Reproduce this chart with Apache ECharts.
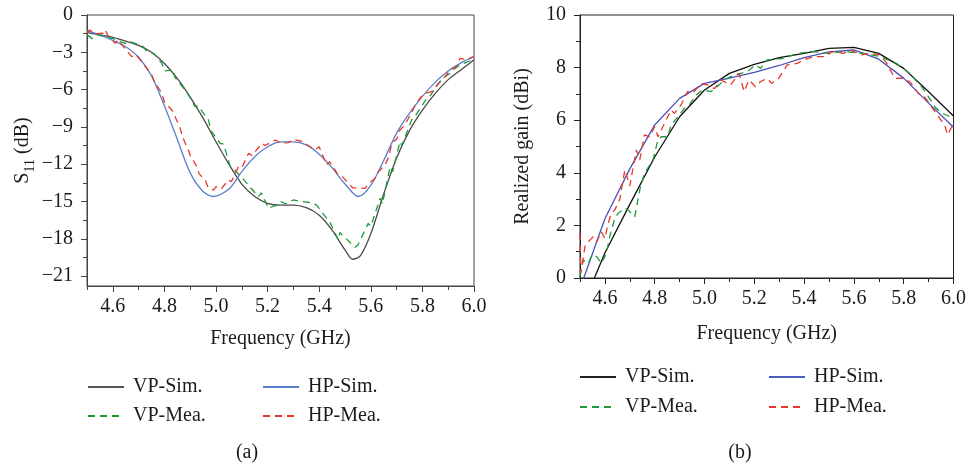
<!DOCTYPE html>
<html>
<head>
<meta charset="utf-8">
<title>S11 and realized gain</title>
<script src="https://cdn.jsdelivr.net/npm/echarts@6/dist/echarts.min.js"></script>
<style>
  html, body { margin: 0; padding: 0; background: #fff; }
  #chart { width: 969px; height: 466px; }
</style>
</head>
<body>
<div id="chart"></div>
<script>
// (a) S11 - simulated, sampled every 0.05 GHz (plus the dips)
var s11SimVP = [[4.5,-1.42],[4.55,-1.6],[4.6,-1.8],[4.65,-2.1],[4.7,-2.45],[4.75,-3.0],[4.8,-3.9],[4.85,-5.1],[4.9,-6.6],[4.95,-8.3],[5.0,-10.2],[5.05,-12.0],[5.1,-13.6],[5.15,-14.6],[5.2,-15.15],[5.25,-15.3],[5.3,-15.3],[5.35,-15.5],[5.4,-16.1],[5.45,-17.3],[5.5,-18.9],[5.53,-19.65],[5.56,-19.35],[5.6,-17.6],[5.65,-14.4],[5.7,-11.5],[5.75,-9.3],[5.8,-7.65],[5.85,-6.3],[5.9,-5.2],[5.95,-4.4],[6.0,-3.6]];
var s11SimHP = [[4.5,-1.3],[4.55,-1.6],[4.6,-2.05],[4.65,-2.55],[4.7,-3.4],[4.75,-4.9],[4.8,-7.3],[4.85,-10.0],[4.9,-12.7],[4.95,-14.2],[4.99,-14.6],[5.05,-14.0],[5.1,-12.6],[5.15,-11.4],[5.2,-10.6],[5.25,-10.2],[5.3,-10.2],[5.35,-10.45],[5.4,-11.2],[5.45,-12.3],[5.5,-13.6],[5.552,-14.6],[5.6,-13.7],[5.65,-11.7],[5.7,-9.5],[5.75,-7.9],[5.8,-6.55],[5.85,-5.4],[5.9,-4.5],[5.95,-3.85],[6.0,-3.35]];
// (a) S11 - measured
var s11MeaVP = [[4.5,-1.6],[4.505,-1.74],[4.52,-1.9],[4.54,-1.6],[4.57,-1.74],[4.6,-1.9],[4.647,-2.28],[4.66,-2.1],[4.69,-2.3],[4.718,-2.55],[4.73,-2.9],[4.76,-3.1],[4.79,-3.89],[4.8,-4.5],[4.835,-4.42],[4.84,-5.0],[4.88,-6.03],[4.89,-6.3],[4.919,-7.38],[4.93,-7.3],[4.971,-8.45],[4.98,-9.3],[5.016,-10.32],[5.03,-10.4],[5.055,-12.2],[5.07,-12.4],[5.12,-13.54],[5.13,-13.8],[5.165,-14.62],[5.175,-14.3],[5.204,-15.55],[5.22,-15.4],[5.242,-15.29],[5.254,-15.02],[5.27,-15.2],[5.3,-14.88],[5.33,-15.0],[5.37,-15.1],[5.39,-15.3],[5.429,-16.36],[5.44,-16.6],[5.474,-18.1],[5.48,-17.5],[5.539,-18.69],[5.55,-18.5],[5.59,-16.76],[5.6,-17.0],[5.636,-14.75],[5.645,-15.2],[5.675,-12.2],[5.685,-12.6],[5.713,-10.19],[5.72,-10.5],[5.758,-8.45],[5.77,-8.2],[5.817,-6.7],[5.83,-6.5],[5.862,-5.5],[5.88,-5.1],[5.907,-4.69],[5.92,-4.4],[5.946,-4.02],[5.96,-3.9],[5.998,-3.57]];
var s11MeaHP = [[4.5,-1.45],[4.51,-1.2],[4.53,-1.5],[4.563,-1.47],[4.57,-1.2],[4.58,-1.6],[4.609,-2.28],[4.62,-2.0],[4.673,-3.35],[4.69,-3.2],[4.712,-3.75],[4.751,-4.83],[4.76,-5.3],[4.79,-6.3],[4.8,-7.0],[4.829,-7.64],[4.84,-8.1],[4.861,-9.1],[4.87,-9.8],[4.893,-10.86],[4.9,-11.3],[4.926,-12.2],[4.935,-12.8],[4.958,-13.27],[4.97,-13.9],[4.99,-14.08],[5.0,-13.8],[5.02,-14.0],[5.048,-13.27],[5.06,-13.4],[5.087,-12.2],[5.1,-12.3],[5.126,-11.13],[5.14,-11.3],[5.178,-10.32],[5.19,-10.5],[5.23,-10.06],[5.25,-10.3],[5.28,-10.27],[5.3,-10.0],[5.338,-10.19],[5.35,-10.4],[5.384,-10.86],[5.4,-10.6],[5.429,-12.07],[5.44,-11.8],[5.474,-12.87],[5.49,-13.0],[5.519,-13.68],[5.53,-13.9],[5.578,-13.94],[5.59,-13.6],[5.616,-13.14],[5.63,-12.6],[5.655,-12.07],[5.67,-11.4],[5.681,-10.32],[5.7,-10.0],[5.713,-9.25],[5.73,-8.9],[5.746,-8.31],[5.76,-7.8],[5.772,-7.24],[5.79,-6.7],[5.81,-6.3],[5.836,-6.17],[5.85,-5.8],[5.869,-5.37],[5.89,-4.9],[5.907,-4.42],[5.93,-4.2],[5.946,-3.48],[5.97,-3.6],[5.998,-3.35]];

// (b) realized gain - simulated every 0.1 GHz
var gainSimVP = [[4.5,-1.3],[4.6,0.95],[4.7,2.8],[4.8,4.6],[4.9,6.13],[5.0,7.15],[5.1,7.78],[5.2,8.12],[5.3,8.38],[5.4,8.54],[5.5,8.73],[5.6,8.77],[5.7,8.54],[5.8,7.97],[5.9,7.08],[6.0,6.16]];
var gainSimHP = [[4.5,-0.4],[4.6,2.25],[4.7,4.15],[4.8,5.82],[4.9,6.83],[5.0,7.4],[5.1,7.6],[5.2,7.82],[5.3,8.08],[5.4,8.38],[5.5,8.6],[5.6,8.67],[5.7,8.32],[5.8,7.6],[5.9,6.65],[6.0,5.73]];
// (b) realized gain - measured
var gainMeaVP = [[4.5,0.05],[4.513,0.68],[4.533,0.56],[4.55,0.9],[4.567,0.81],[4.586,0.56],[4.606,0.94],[4.62,1.6],[4.64,2.27],[4.653,2.46],[4.68,2.65],[4.693,2.59],[4.72,2.33],[4.74,3.35],[4.759,3.98],[4.793,4.49],[4.813,5.25],[4.826,5.37],[4.853,5.37],[4.866,5.82],[4.893,6.13],[4.919,6.45],[4.939,6.58],[4.966,6.96],[4.992,7.15],[5.026,7.09],[5.052,7.28],[5.079,7.53],[5.119,7.72],[5.145,7.78],[5.172,7.85],[5.205,8.1],[5.225,7.97],[5.252,8.29],[5.318,8.35],[5.372,8.54],[5.439,8.61],[5.498,8.54],[5.558,8.61],[5.638,8.54],[5.704,8.42],[5.771,8.16],[5.824,7.78],[5.877,7.21],[5.93,6.45],[5.957,6.26],[5.999,6.07]];
var gainMeaHP = [[4.5,1.7],[4.503,0.2],[4.507,0.18],[4.52,1.2],[4.527,1.32],[4.553,1.57],[4.567,1.38],[4.586,1.76],[4.6,1.5],[4.613,2.08],[4.626,2.46],[4.64,2.59],[4.66,3.0],[4.68,4.11],[4.693,3.73],[4.7,3.5],[4.726,4.87],[4.74,4.49],[4.759,5.44],[4.779,5.37],[4.8,5.75],[4.813,5.37],[4.84,5.9],[4.866,6.39],[4.879,6.26],[4.906,6.58],[4.932,7.09],[4.952,7.02],[4.986,7.4],[5.012,7.34],[5.04,7.2],[5.066,7.53],[5.105,7.34],[5.139,7.78],[5.159,7.09],[5.179,7.53],[5.205,7.27],[5.225,7.47],[5.252,7.59],[5.27,7.4],[5.298,7.59],[5.332,8.1],[5.372,8.16],[5.4,8.3],[5.439,8.42],[5.485,8.42],[5.512,8.61],[5.558,8.54],[5.585,8.67],[5.631,8.48],[5.664,8.54],[5.704,8.48],[5.73,8.2],[5.764,7.59],[5.79,7.6],[5.824,7.47],[5.864,6.96],[5.884,6.89],[5.93,6.26],[5.964,5.82],[5.977,5.44],[5.997,5.82]];

// ticks
var freqTicks = [4.6, 4.8, 5.0, 5.2, 5.4, 5.6, 5.8, 6.0];
var freqMinor = [4.5, 4.7, 4.9, 5.1, 5.3, 5.5, 5.7, 5.9];
var s11Ticks = [0, -3, -6, -9, -12, -15, -18, -21];
var s11Minor = [-1.5, -4.5, -7.5, -10.5, -13.5, -16.5, -19.5];

var FONT = 'Liberation Serif';
var FS = 20;
var TXT = '#1e1a1b';
var dashed = [7, 5];

var chart = echarts.init(document.getElementById('chart'));

function minus(v) {
  return v < 0 ? '\u2212' + (-v) : String(v);
}

function mainX(grid, axisColor, gap) {
  return {
    type: 'value', gridIndex: grid, min: 4.5, max: 6.0, position: 'bottom',
    axisLine: { show: true, onZero: false, lineStyle: { color: axisColor, width: 1 } },
    axisTick: { show: true, customValues: freqTicks, length: 6, lineStyle: { color: axisColor } },
    axisLabel: { customValues: freqTicks, margin: 11, fontFamily: FONT, fontSize: FS, color: TXT,
      formatter: function (v) { return v.toFixed(1); } },
    splitLine: { show: false },
    name: 'Frequency (GHz)', nameLocation: 'middle', nameGap: gap,
    nameTextStyle: { fontFamily: FONT, fontSize: FS, color: TXT }
  };
}
function minorX(grid, axisColor) {
  return {
    type: 'value', gridIndex: grid, min: 4.5, max: 6.0, position: 'bottom',
    axisLine: { show: false, onZero: false },
    axisTick: { show: true, customValues: freqMinor, length: 4, lineStyle: { color: axisColor } },
    axisLabel: { show: false, customValues: freqMinor },
    splitLine: { show: false }
  };
}
function legendCol(left, top, gap, items) {
  return {
    left: left, top: top, orient: 'vertical', padding: 0, itemGap: gap, itemWidth: 36, itemHeight: 14,
    itemStyle: { opacity: 0 },
    textStyle: { fontFamily: FONT, fontSize: FS, color: TXT, lineHeight: 20, padding: [0, 0, 0, 4] },
    data: items
  };
}

var option = {
  animation: false,
  backgroundColor: '#fff',
  grid: [
    { left: 87, top: 15, width: 387, height: 271, show: true, borderColor: '#444', borderWidth: 1 },
    { left: 580, top: 15, width: 376, height: 263, show: true, borderColor: '#222', borderWidth: 1 }
  ],
  xAxis: [mainX(0, '#444', 43), minorX(0, '#444'), mainX(1, '#222', 46), minorX(1, '#222')],
  yAxis: [
    {
      type: 'value', gridIndex: 0, min: -21.8, max: 0, position: 'left',
      axisLine: { show: true, onZero: false, lineStyle: { color: '#444' } },
      axisTick: { show: true, customValues: s11Ticks, length: 6, lineStyle: { color: '#444' } },
      axisLabel: { customValues: s11Ticks, margin: 14, fontFamily: FONT, fontSize: FS, color: TXT, formatter: minus },
      splitLine: { show: false },
      name: '{s|S}{sub|11}{s| (dB)}', nameLocation: 'middle', nameGap: 54, nameRotate: 90,
      nameTextStyle: {
        rich: {
          s: { fontFamily: FONT, fontSize: FS, color: TXT, lineHeight: 24, verticalAlign: 'bottom' },
          sub: { fontFamily: FONT, fontSize: 14, color: TXT, lineHeight: 24, verticalAlign: 'bottom', padding: [0, 0, -4, 0] }
        }
      }
    },
    {
      type: 'value', gridIndex: 0, min: -21.8, max: 0, position: 'left',
      axisLine: { show: false, onZero: false },
      axisTick: { show: true, customValues: s11Minor, length: 4, lineStyle: { color: '#444' } },
      axisLabel: { show: false, customValues: s11Minor },
      splitLine: { show: false }
    },
    {
      type: 'value', gridIndex: 1, min: 0, max: 10, interval: 2, position: 'left',
      axisLine: { show: true, onZero: false, lineStyle: { color: '#222' } },
      axisTick: { show: true, length: 6, lineStyle: { color: '#222' } },
      minorTick: { show: true, splitNumber: 2, length: 4, lineStyle: { color: '#222' } },
      axisLabel: { margin: 14, fontFamily: FONT, fontSize: FS, color: TXT },
      splitLine: { show: false },
      name: 'Realized gain (dBi)', nameLocation: 'middle', nameGap: 47, nameRotate: 90,
      nameTextStyle: { fontFamily: FONT, fontSize: FS, color: TXT }
    }
  ],
  legend: [
    legendCol(87, 377, 9, [{ name: 'VP-Sim.', lineStyle: { color: '#555' } }, { name: 'VP-Mea.' }]),
    legendCol(262, 377, 9, [{ name: 'HP-Sim.', lineStyle: { color: '#5b7fc9' } }, { name: 'HP-Mea.' }]),
    legendCol(579, 367, 10, [{ name: 'VP-Sim.', lineStyle: { color: '#222' } }, { name: 'VP-Mea.' }]),
    legendCol(768, 367, 10, [{ name: 'HP-Sim.', lineStyle: { color: '#4a5fc0' } }, { name: 'HP-Mea.' }])
  ],
  graphic: [
    { type: 'text', x: 247, y: 453, style: { text: '(a)', fontFamily: FONT, fontSize: FS, fill: TXT, textAlign: 'center', textVerticalAlign: 'middle' } },
    { type: 'text', x: 740, y: 453, style: { text: '(b)', fontFamily: FONT, fontSize: FS, fill: TXT, textAlign: 'center', textVerticalAlign: 'middle' } }
  ],
  series: [
    { name: 'VP-Sim.', type: 'line', xAxisIndex: 0, yAxisIndex: 0, data: s11SimVP, smooth: 0.3, symbol: 'none',
      lineStyle: { color: '#4a4a4a', width: 1.3 }, itemStyle: { color: '#4a4a4a' } },
    { name: 'HP-Sim.', type: 'line', xAxisIndex: 0, yAxisIndex: 0, data: s11SimHP, smooth: 0.3, symbol: 'none',
      lineStyle: { color: '#5b7fc9', width: 1.3 }, itemStyle: { color: '#5b7fc9' } },
    { name: 'VP-Mea.', type: 'line', xAxisIndex: 0, yAxisIndex: 0, data: s11MeaVP, symbol: 'none',
      lineStyle: { color: '#1f9a3a', width: 1.3, type: dashed }, itemStyle: { color: '#1f9a3a' } },
    { name: 'HP-Mea.', type: 'line', xAxisIndex: 0, yAxisIndex: 0, data: s11MeaHP, symbol: 'none',
      lineStyle: { color: '#e6392b', width: 1.3, type: dashed }, itemStyle: { color: '#e6392b' } },
    { name: 'VP-Sim.', type: 'line', xAxisIndex: 2, yAxisIndex: 2, data: gainSimVP, symbol: 'none', clip: true,
      lineStyle: { color: '#111', width: 1.3 }, itemStyle: { color: '#111' } },
    { name: 'HP-Sim.', type: 'line', xAxisIndex: 2, yAxisIndex: 2, data: gainSimHP, symbol: 'none', clip: true,
      lineStyle: { color: '#4a4fb8', width: 1.3 }, itemStyle: { color: '#4a4fb8' } },
    { name: 'VP-Mea.', type: 'line', xAxisIndex: 2, yAxisIndex: 2, data: gainMeaVP, symbol: 'none', clip: true,
      lineStyle: { color: '#1f9a3a', width: 1.3, type: dashed }, itemStyle: { color: '#1f9a3a' } },
    { name: 'HP-Mea.', type: 'line', xAxisIndex: 2, yAxisIndex: 2, data: gainMeaHP, symbol: 'none', clip: true,
      lineStyle: { color: '#e6392b', width: 1.3, type: dashed }, itemStyle: { color: '#e6392b' } }
  ]
};
chart.setOption(option);
</script>
</body>
</html>
